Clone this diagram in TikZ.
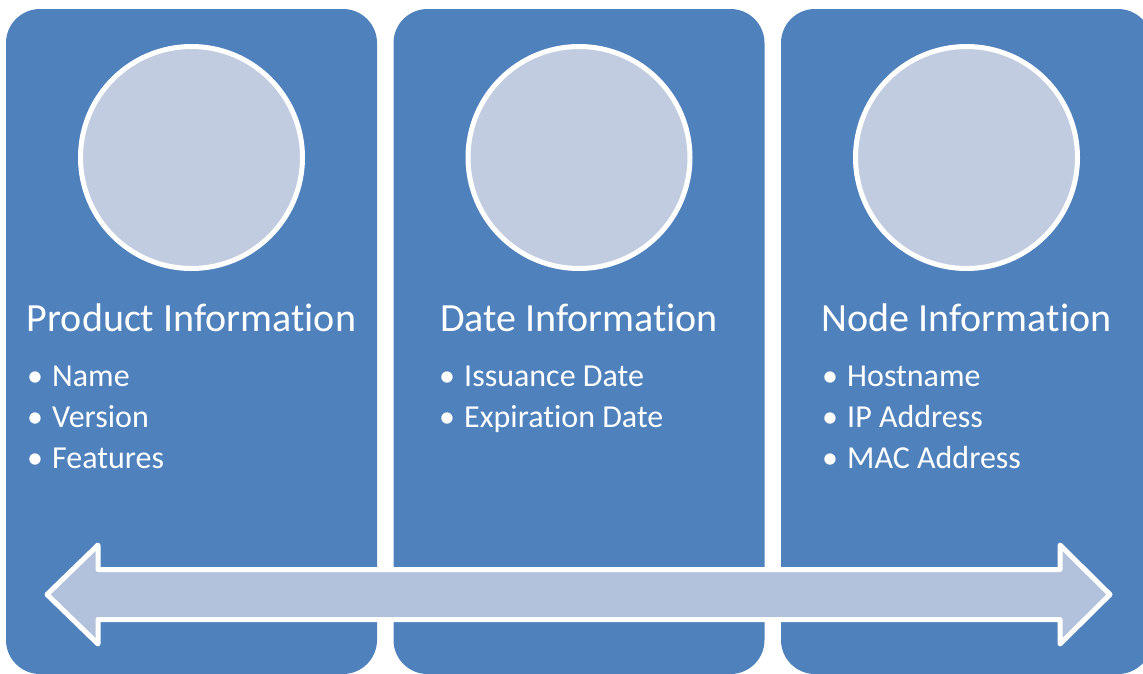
\documentclass[tikz,border=0pt]{standalone}
\usepackage{fontspec}
\setmainfont{Carlito}[Ligatures=NoCommon]
\definecolor{panelblue}{HTML}{4F81BD}
\definecolor{circfill}{HTML}{C2CCE1}
\definecolor{arrowfill}{HTML}{B3C2DC}
\begin{document}
\begin{tikzpicture}[x=1pt,y=-1pt,
  panel/.style={fill=panelblue, draw=none, rounded corners=34pt, minimum width=371pt, minimum height=665pt, inner sep=0pt, outer sep=0pt},
  disc/.style={circle, fill=circfill, draw=white, line width=5pt, minimum size=222pt, inner sep=0pt},
  title/.style={text=white, font=\fontsize{40}{48}\selectfont, anchor=base, inner sep=0pt},
  bul/.style={text=white, font=\fontsize{32}{41}\selectfont, anchor=base, inner sep=0pt},
  item/.style={text=white, font=\fontsize{32}{41}\selectfont, anchor=base west, inner sep=0pt},
  bigarrow/.style={fill=arrowfill, draw=white, line width=5pt, line join=round}
]
\useasboundingbox (0,0) rectangle (1143,673);
\begin{scope}
\clip (0,0) rectangle (1143,673);
% panels
\node[panel] (p1) at (191.5,341.5) {};
\node[panel] (p2) at (579,341.5) {};
\node[panel] (p3) at (966.5,341.5) {};
% circles
\node[disc] (c1) at (191.5,157.5) {};
\node[disc] (c2) at (579,157.5) {};
\node[disc] (c3) at (966.5,157.5) {};
% titles
\node[title] (t1) at (191.5,331) {Product Information};
\node[title] (t2) at (579,331) {Date Information};
\node[title] (t3) at (966.5,331) {Node Information};
% bullets panel 1
\node[bul] (b11) at (35,386) {•};
\node[item] (i11) at (52,386) {Name};
\node[bul] (b12) at (35,427) {•};
\node[item] (i12) at (52,427) {Version};
\node[bul] (b13) at (35,468) {•};
\node[item] (i13) at (52,468) {Features};
% bullets panel 2
\node[bul] (b21) at (447,386) {•};
\node[item] (i21) at (464,386) {Issuance Date};
\node[bul] (b22) at (447,427) {•};
\node[item] (i22) at (464,427) {Expiration Date};
% bullets panel 3
\node[bul] (b31) at (830,386) {•};
\node[item] (i31) at (847,386) {Hostname};
\node[bul] (b32) at (830,427) {•};
\node[item] (i32) at (847,427) {IP Address};
\node[bul] (b33) at (830,468) {•};
\node[item] (i33) at (847,468) {MAC Address};
% double arrow
\coordinate (ltip) at (47,594.5);
\coordinate (rtip) at (1110,594.5);
\draw[bigarrow] (ltip) -- (98,545) -- (98,569.5) -- (1060,569.5) -- (1060,545) -- (rtip)
  -- (1060,644) -- (1060,619.5) -- (98,619.5) -- (98,644) -- cycle;
\end{scope}
\end{tikzpicture}
\end{document}
